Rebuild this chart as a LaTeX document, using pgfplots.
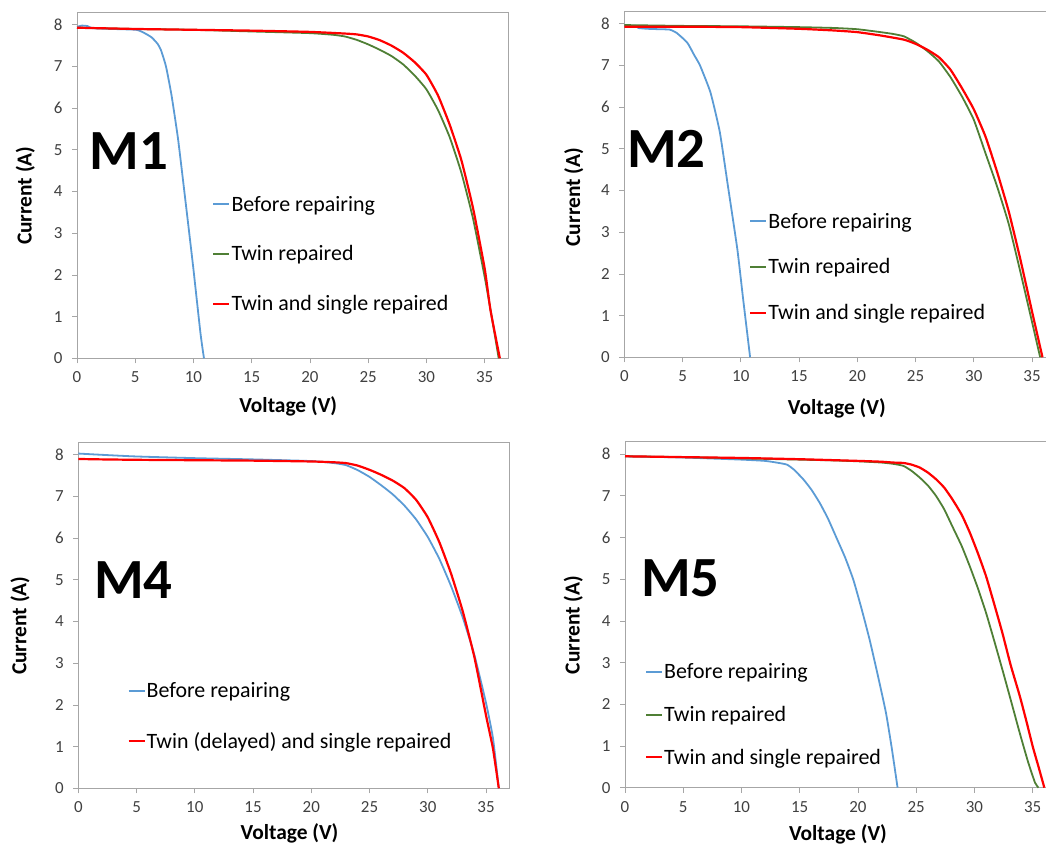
\documentclass[border=0pt]{standalone}
\usepackage{fontspec}
\setmainfont{Carlito}
\usepackage{pgfplots}
\pgfplotsset{compat=1.18}
\definecolor{axisgray}{HTML}{A6A6A6}
\definecolor{cblue}{HTML}{5B9BD5}
\definecolor{cgreen}{HTML}{4F7F35}
\definecolor{cred}{HTML}{FF0000}
\definecolor{ticktext}{HTML}{404040}
\pgfplotsset{panel/.style={
  scale only axis, width=431bp, height=346bp,
  xmin=0, xmax=37, ymin=0, ymax=8.3,
  xtick={0,5,...,35}, ytick={0,1,...,8},
  axis line style={draw=axisgray, line width=0.8bp},
  tick style={draw=axisgray, line width=0.8bp},
  tick align=outside, major tick length=5bp,
  xtick pos=bottom, ytick pos=left,
  tick label style={font=\fontsize{17}{20}\selectfont, text=ticktext},
  xticklabel style={yshift=-5bp},
  yticklabel style={xshift=-6bp},
  /pgf/number format/assume math mode=true,
  label style={font=\bfseries\fontsize{21.5}{25}\selectfont},
  xlabel={Voltage (V)}, ylabel={Current (A)},
  legend cell align=left,
  legend style={draw=none, fill=none, inner sep=0pt, font=\fontsize{22}{26}\selectfont, anchor=west, nodes={inner sep=1bp}},
  legend image code/.code={\draw[##1] (0bp,0bp) -- (16bp,0bp);},
  every axis plot/.append style={line join=round, smooth, tension=0.3},
  clip=false,
}}
\pgfplotsset{
  bl/.style={color=cblue, line width=1.8bp},
  gr/.style={color=cgreen, line width=1.8bp},
  rd/.style={color=cred, line width=2.2bp},
}
\begin{document}
\begin{tikzpicture}
\useasboundingbox (0,0) rectangle (1046bp,847bp);
\clip (0,0) rectangle (1046bp,847bp);
% ---------------- M1 ----------------
\begin{axis}[panel, at={(77bp,488.7bp)}, anchor=south west,
  xlabel style={at={(axis description cs:0.49,-0.14)}, anchor=center},
  ylabel style={at={(axis description cs:-0.12,0.47)}, anchor=center},
  legend style={at={(axis cs:11.6,2.5)}, row sep=31bp}]
\addplot[bl] coordinates {(0,7.95)(0.4,7.98)(0.9,7.97)(1.3,7.92)(3,7.9)(5.1,7.88)(5.8,7.8)(6.4,7.7)(6.9,7.55)(7.2,7.4)(7.64,7.0)(8.12,6.3)(8.68,5.25)(9.3,3.8)(9.97,2.2)(10.6,0.6)(10.9,0)};
\addplot[gr] coordinates {(0,7.93)(5,7.9)(10,7.88)(15,7.84)(20,7.8)(22,7.76)(23,7.72)(24,7.64)(25,7.53)(26,7.4)(27,7.25)(28,7.05)(29,6.78)(30,6.45)(31,5.95)(32,5.3)(33,4.45)(34,3.35)(35,1.95)(35.6,1.0)(36.2,0)};
\addplot[rd] coordinates {(0,7.93)(5,7.9)(10,7.88)(15,7.86)(20,7.83)(23,7.79)(24,7.77)(25,7.72)(26,7.63)(27,7.5)(28,7.33)(29,7.1)(30,6.8)(31,6.3)(32,5.6)(33,4.75)(34,3.6)(35,2.15)(35.5,1.15)(36.3,0)};
\legend{Before repairing, Twin repaired, Twin and single repaired}
\node[anchor=base west, inner sep=0pt, font=\bfseries\fontsize{57}{60}\selectfont] at (axis cs:1.05,4.53) {M1};
\end{axis}
% ---------------- M2 ----------------
\begin{axis}[panel, at={(624.3bp,489.7bp)}, anchor=south west,
  xlabel style={at={(axis description cs:0.493,-0.147)}, anchor=center},
  ylabel style={at={(axis description cs:-0.117,0.463)}, anchor=center},
  legend style={at={(axis cs:10.7,2.165)}, row sep=27bp}]
\addplot[bl] coordinates {(0,7.95)(1,7.95)(1.2,7.9)(2,7.88)(3,7.87)(3.9,7.86)(4.5,7.78)(5.4,7.55)(6,7.25)(6.5,7.0)(7.4,6.35)(8.2,5.4)(8.9,4.1)(9.7,2.6)(10.2,1.4)(10.8,0)};
\addplot[gr] coordinates {(0,7.97)(5,7.95)(10,7.94)(15,7.92)(18,7.9)(20,7.87)(22,7.8)(23,7.76)(24,7.7)(25,7.55)(26,7.35)(27,7.1)(28,6.72)(29,6.25)(30,5.7)(31,4.9)(32,4.1)(33,3.2)(34,2.05)(35,0.85)(35.7,0)};
\addplot[rd] coordinates {(0,7.93)(5,7.93)(10,7.92)(15,7.88)(18,7.84)(20,7.8)(22,7.72)(24,7.62)(25,7.52)(26,7.38)(27,7.2)(28,6.9)(29,6.45)(30,5.95)(31,5.3)(32,4.45)(33,3.5)(34,2.35)(35,1.1)(35.9,0)};
\legend{Before repairing, Twin repaired, Twin and single repaired}
\node[anchor=base west, inner sep=0pt, font=\bfseries\fontsize{57}{60}\selectfont] at (axis cs:0.23,4.55) {M2};
\end{axis}
% ---------------- M4 ----------------
\begin{axis}[panel, at={(78.3bp,58.7bp)}, anchor=south west,
  xlabel style={at={(axis description cs:0.49,-0.129)}, anchor=center},
  ylabel style={at={(axis description cs:-0.135,0.47)}, anchor=center},
  legend style={at={(axis cs:4.2,1.73)}, row sep=31.5bp}]
\addplot[bl] coordinates {(0,8.03)(2,8.0)(5,7.96)(10,7.92)(15,7.89)(20,7.85)(22,7.8)(23,7.75)(24,7.63)(25,7.47)(26,7.27)(27,7.05)(28,6.78)(29,6.45)(30,6.03)(31,5.5)(32,4.85)(33,4.1)(34,3.2)(35,2.05)(35.6,1.2)(36.1,0)};
\addplot[rd] coordinates {(0,7.9)(2,7.89)(5,7.88)(10,7.87)(15,7.86)(20,7.84)(22,7.82)(23,7.8)(24,7.74)(25,7.64)(26,7.52)(27,7.38)(28,7.2)(29,6.92)(30,6.5)(31,5.9)(32,5.15)(33,4.25)(34,3.15)(35,1.75)(35.6,0.95)(36.1,0)};
\legend{Before repairing, Twin (delayed) and single repaired}
\node[anchor=base west, inner sep=0pt, font=\bfseries\fontsize{57}{60}\selectfont] at (axis cs:1.35,4.56) {M4};
\end{axis}
% ---------------- M5 ----------------
\begin{axis}[panel, at={(625bp,59.3bp)}, anchor=south west,
  xlabel style={at={(axis description cs:0.494,-0.136)}, anchor=center},
  ylabel style={at={(axis description cs:-0.12,0.47)}, anchor=center},
  legend style={at={(axis cs:1.7,1.75)}, row sep=24bp}]
\addplot[bl] coordinates {(0,7.95)(5,7.92)(10,7.87)(12,7.84)(13,7.8)(13.9,7.75)(14.5,7.63)(15.3,7.4)(16,7.15)(16.7,6.84)(17.4,6.47)(18.1,6.03)(18.9,5.52)(19.6,4.99)(20.3,4.3)(21,3.55)(21.7,2.7)(22.4,1.8)(22.9,0.95)(23.4,0)};
\addplot[gr] coordinates {(0,7.95)(5,7.93)(10,7.9)(15,7.87)(18,7.85)(20,7.83)(22,7.8)(23,7.77)(23.9,7.72)(24.6,7.6)(25.3,7.44)(26,7.25)(26.7,7.0)(27.4,6.68)(28.1,6.27)(28.9,5.8)(29.6,5.31)(30.3,4.78)(31,4.19)(31.7,3.52)(32.4,2.83)(33.1,2.12)(33.9,1.3)(34.6,0.62)(35.2,0.12)(35.5,0)};
\addplot[rd] coordinates {(0,7.95)(5,7.93)(10,7.91)(15,7.88)(20,7.84)(22,7.82)(23,7.8)(23.9,7.79)(24.6,7.75)(25.3,7.68)(26,7.56)(26.7,7.4)(27.4,7.2)(28.1,6.92)(28.9,6.55)(29.6,6.12)(30.3,5.62)(31,5.07)(31.7,4.4)(32.4,3.71)(33.1,2.95)(33.9,2.19)(34.5,1.55)(35,0.99)(35.5,0.5)(36,0)};
\legend{Before repairing, Twin repaired, Twin and single repaired}
\node[anchor=base west, inner sep=0pt, font=\bfseries\fontsize{57}{60}\selectfont] at (axis cs:1.37,4.58) {M5};
\end{axis}
\end{tikzpicture}
\end{document}
